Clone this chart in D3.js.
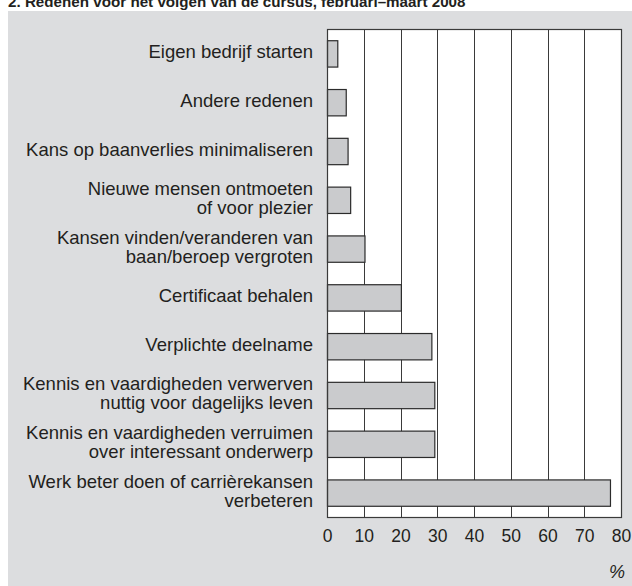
<!DOCTYPE html>
<html lang="nl">
<head>
<meta charset="UTF-8">
<title>Redenen voor het volgen van de cursus</title>
<script src="https://d3js.org/d3.v7.min.js"></script>
<style>
  body { margin: 0; background: #fff; }
  text { font-family: "Liberation Sans", Arial, Helvetica, sans-serif; fill: #231f20; }
</style>
</head>
<body>
<div id="chart"></div>
<script>
// categories, top to bottom (line breaks as in the original)
var reasons = [
  "Eigen bedrijf starten",
  "Andere redenen",
  "Kans op baanverlies minimaliseren",
  "Nieuwe mensen ontmoeten\nof voor plezier",
  "Kansen vinden/veranderen van\nbaan/beroep vergroten",
  "Certificaat behalen",
  "Verplichte deelname",
  "Kennis en vaardigheden verwerven\nnuttig voor dagelijks leven",
  "Kennis en vaardigheden verruimen\nover interessant onderwerp",
  "Werk beter doen of carrièrekansen\nverbeteren"
];
// percentages
var shares = [2.8, 5.1, 5.6, 6.3, 10.2, 20.1, 28.4, 29.2, 29.2, 77.0];
var xTicks = [0, 10, 20, 30, 40, 50, 60, 70, 80];
var title = "2.  Redenen voor het volgen van de cursus, februari\u2013maart 2008";

var W = 632, H = 586;
var margin = {top: 29, right: 11, bottom: 69, left: 327};
var width = W - margin.left - margin.right,
    height = H - margin.top - margin.bottom;

var svg = d3.select("#chart").append("svg")
    .attr("width", W).attr("height", H);

// grey panel
svg.append("rect")
    .attr("x", 8).attr("y", 11)
    .attr("width", W - 8).attr("height", H - 11)
    .attr("fill", "#dcdddf");

// title (cut off at the top in the original)
svg.append("text")
    .attr("x", 8).attr("y", 7)
    .style("font-size", "15.2px").style("font-weight", "bold")
    .text(title);

var g = svg.append("g")
    .attr("transform", "translate(" + margin.left + "," + margin.top + ")");

var x = d3.scaleLinear().domain([0, 80]).range([0, width]);
var y = d3.scaleBand().domain(reasons).range([0, height])
    .paddingInner(0.46).paddingOuter(0.23);

// plot background
g.append("rect")
    .attr("width", width).attr("height", height)
    .attr("fill", "#fff");

// vertical grid
g.selectAll(".grid")
  .data(xTicks)
  .enter().append("line")
    .attr("x1", function(d) { return Math.round(x(d)) + 0.5; })
    .attr("x2", function(d) { return Math.round(x(d)) + 0.5; })
    .attr("y1", 0).attr("y2", height)
    .attr("stroke", "#3a3a3a").attr("stroke-width", 1);

// bars
g.selectAll(".bar")
  .data(reasons)
  .enter().append("rect")
    .attr("x", x(0) + 0.5)
    .attr("y", function(d) { return y(d) + 0.5; })
    .attr("width", function(d, i) { return x(shares[i]); })
    .attr("height", y.bandwidth())
    .attr("fill", "#cacbcd")
    .attr("stroke", "#2b2b2b").attr("stroke-width", 1.2);

// frame
g.append("rect")
    .attr("x", 0.5).attr("y", 0.5)
    .attr("width", width).attr("height", height)
    .attr("fill", "none").attr("stroke", "#3a3a3a").attr("stroke-width", 1.2);

// x axis labels
var xAxis = g.append("g")
    .attr("transform", "translate(0," + height + ")")
    .call(d3.axisBottom(x).tickValues(xTicks).tickSize(0).tickPadding(13));
xAxis.select(".domain").remove();
xAxis.selectAll("text")
    .style("font-size", "17.5px")
    .attr("fill", "#231f20")
    .attr("font-family", null);

// category labels
var labels = g.selectAll(".lab")
  .data(reasons)
  .enter().append("text")
    .attr("text-anchor", "end")
    .style("font-size", "18.5px")
    .attr("transform", function(d) {
      return "translate(-14," + (y(d) + y.bandwidth() / 2 - 1.5) + ")";
    });
labels.each(function(d) {
  var lines = d.split("\n");
  var t = d3.select(this);
  lines.forEach(function(l, k) {
    t.append("tspan")
      .attr("x", 0)
      .attr("y", (k - (lines.length - 1) / 2) * 19)
      .attr("dy", "0.35em")
      .text(l);
  });
});

// unit
svg.append("text")
    .attr("x", 625).attr("y", 578)
    .attr("text-anchor", "end")
    .style("font-size", "18px").style("font-style", "italic")
    .text("%");
</script>
</body>
</html>
